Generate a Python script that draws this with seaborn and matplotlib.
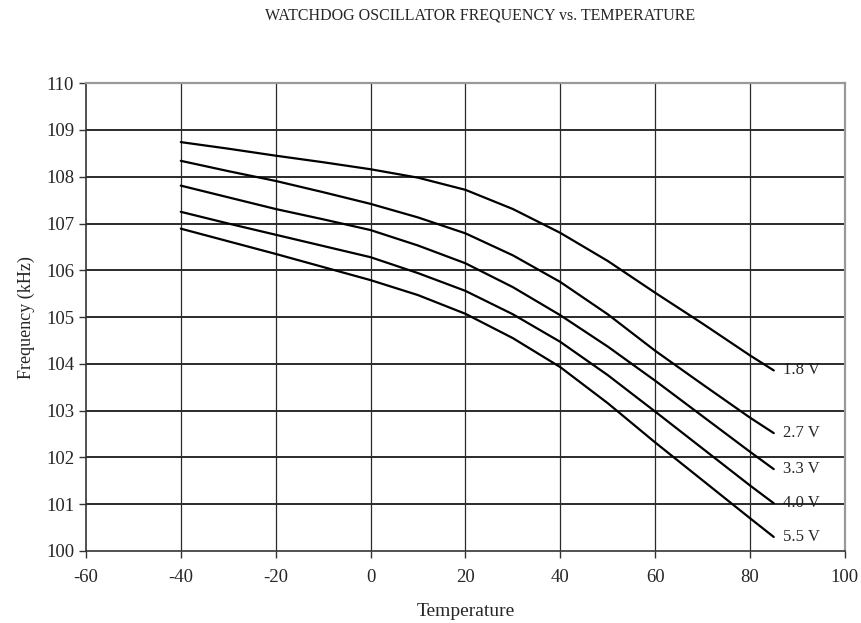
import matplotlib
matplotlib.use("Agg")
import matplotlib.pyplot as plt
import seaborn as sns
import numpy as np
import pandas as pd

# temperature points (deg C)
temps = [-40, -30, -20, -10, 0, 10, 20, 30, 40, 50, 60, 70, 80, 85]

# frequency (kHz) for each supply voltage
f_18 = [108.74, 108.60, 108.45, 108.31, 108.16, 107.98, 107.72, 107.31, 106.80, 106.20, 105.52, 104.86, 104.18, 103.86]
f_27 = [108.34, 108.12, 107.91, 107.67, 107.42, 107.13, 106.79, 106.32, 105.75, 105.06, 104.28, 103.56, 102.85, 102.52]
f_33 = [107.81, 107.56, 107.31, 107.09, 106.86, 106.53, 106.15, 105.64, 105.04, 104.37, 103.64, 102.88, 102.12, 101.75]
f_40 = [107.25, 107.00, 106.76, 106.52, 106.28, 105.94, 105.56, 105.06, 104.47, 103.76, 102.98, 102.19, 101.40, 101.02]
f_55 = [106.89, 106.62, 106.35, 106.07, 105.79, 105.47, 105.07, 104.55, 103.93, 103.16, 102.32, 101.51, 100.70, 100.30]

voltages = ["1.8 V", "2.7 V", "3.3 V", "4.0 V", "5.5 V"]
series = [f_18, f_27, f_33, f_40, f_55]

df = pd.DataFrame({
    "temp": temps * len(voltages),
    "freq": sum(series, []),
    "volt": [v for v in voltages for _ in temps],
})

sns.set_style("white")
plt.rcParams["font.family"] = ["Liberation Serif", "DejaVu Serif"]
plt.rcParams["axes.unicode_minus"] = False

fig = plt.figure(figsize=(8.61, 6.23), dpi=100)
ax = fig.add_axes([0.0998, 0.1156, 0.8815, 0.7509])

sns.lineplot(data=df, x="temp", y="freq", hue="volt", palette=["black"] * 5,
             legend=False, linewidth=1.6, ax=ax, zorder=3)

ax.set_xlim(-60, 100)
ax.set_ylim(100, 110)
ax.set_xticks(np.arange(-60, 101, 20))
ax.set_yticks(np.arange(100, 111, 1))

# grid: black horizontals, slightly lighter verticals
for yv in range(101, 110):
    ax.axhline(yv, color="#1a1a1a", linewidth=1.3, zorder=2)
for xv in range(-40, 100, 20):
    ax.axvline(xv, color="#2a2a2a", linewidth=0.9, zorder=2)

# voltage labels at the end of each curve
for v, s in zip(voltages, series):
    ax.annotate(v, xy=(temps[-1], s[-1]), xytext=(7, 0), textcoords="offset points",
                va="center", ha="left", fontsize=12, zorder=1)

for side in ["left", "bottom"]:
    ax.spines[side].set_color("#333333")
    ax.spines[side].set_linewidth(1.2)
for side in ["top", "right"]:
    ax.spines[side].set_color("#999999")
    ax.spines[side].set_linewidth(1.6)

ax.tick_params(axis="both", direction="out", length=5, width=1, color="#333333",
               labelsize=13.5, bottom=True, left=True)
ax.tick_params(axis="x", pad=8)

ax.set_xlabel("Temperature", fontsize=14, labelpad=12)
ax.set_ylabel("Frequency (kHz)", fontsize=13, labelpad=8)

fig.text(0.557, 0.975, "WATCHDOG OSCILLATOR FREQUENCY vs. TEMPERATURE",
         ha="center", va="center", fontsize=11.5)

fig.savefig("out.png", dpi=100)
